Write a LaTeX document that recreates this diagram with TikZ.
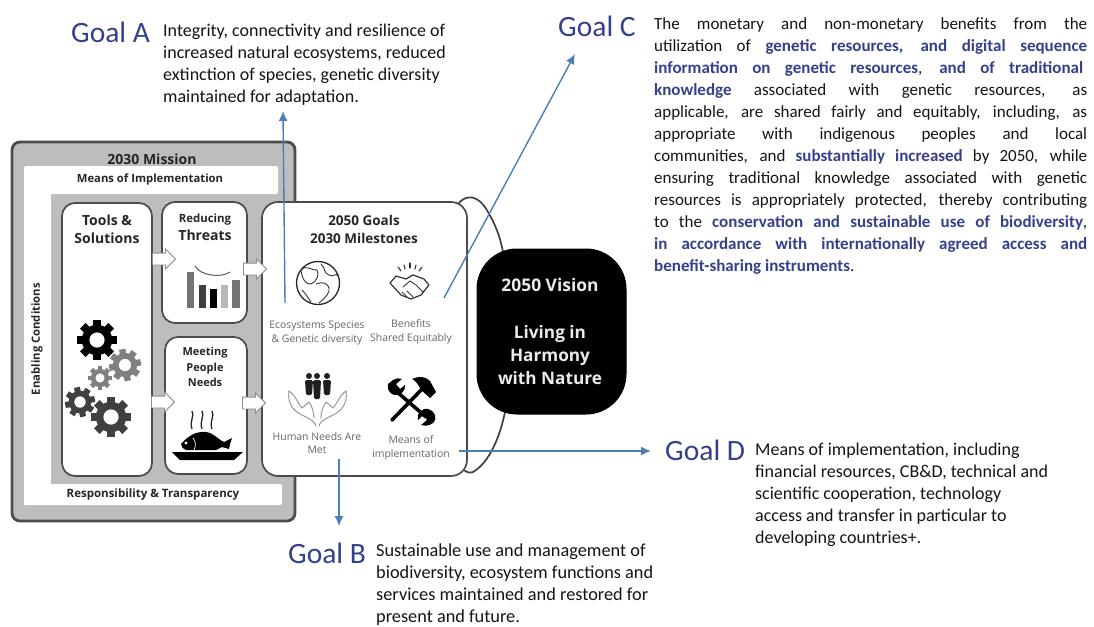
\documentclass[tikz,border=0pt]{standalone}
\usepackage{fontspec}
\setmainfont{Carlito}
\newfontfamily\sg{Open Sans}
\usetikzlibrary{arrows.meta,shapes.arrows}
\definecolor{goalblue}{HTML}{34408C}
\definecolor{lineblue}{HTML}{4A7EBB}
\definecolor{boxgray}{HTML}{BDBDBD}
\newcommand{\gb}[1]{\textbf{\textcolor{goalblue}{#1}}}
\newcommand{\jl}[1]{\makebox[433pt][s]{#1}}
\newcommand{\gearicon}[5]{%
  \foreach \ang in {0,45,...,315}{
    \fill[#5,shift={(#1,#2)},rotate=\ang+#3] (-#4*0.2,0) rectangle (#4*0.2,#4);
  }
  \fill[#5] (#1,#2) circle ({#4*0.76});
  \fill[white] (#1,#2) circle ({#4*0.38});
}
\tikzset{
  x=1pt,y=-1pt,
  goallabel/.style={inner sep=0pt,anchor=west,text=goalblue,font=\fontsize{29.5}{32}\selectfont},
  goaltext/.style={inner sep=0pt,anchor=north west,align=left,text=black!92,font=\fontsize{18}{22}\selectfont},
  panel/.style={draw=black!70,line width=1.7pt,fill=white,rounded corners=13pt},
  head/.style={inner sep=0pt,align=center,text=black!85,font=\sg\bfseries\fontsize{14}{18}\selectfont},
  band/.style={inner sep=0pt,align=center,text=black!85,font=\sg\bfseries\fontsize{11.3}{13}\selectfont},
  caption/.style={inner sep=0pt,align=center,text=black!60,font=\sg\fontsize{10.4}{13.5}\selectfont},
  vis/.style={inner sep=0pt,align=center,text=white!92!black,font=\sg\bfseries},
  callout/.style={draw=lineblue,line width=1.4pt,-{Latex[length=10pt,width=9pt]}},
  blockarrow/.style={single arrow,draw=black!45,fill=white,line width=.9pt,minimum height=23pt,text height=11pt,text depth=0pt,text width=8pt,single arrow head extend=4pt,inner sep=0pt},
  icon/.style={black!80,line width=.9pt,line join=round,line cap=round},
  hand/.style={black!40,line width=1pt,line join=round,line cap=round},
}
\begin{document}
\begin{tikzpicture}
\useasboundingbox (0,0) rectangle (1094,626);
% mission frame
\draw[draw=black!70,line width=2.8pt,fill=boxgray,rounded corners=8pt] (12,142) rectangle (295,521);
\fill[white,rounded corners=2pt] (24,166) rectangle (278,194);
\fill[white] (24,190) rectangle (51,505);
\fill[white,rounded corners=2pt] (24,484) rectangle (282,505);
\node[head] (mission) at (152,159) {2030 Mission};
\node[band] (means) at (150,180) {Means of Implementation};
\node[band,font=\sg\bfseries\fontsize{11.5}{13}\selectfont] (resp) at (153,495) {Responsibility \& Transparency};
\node[band,rotate=90] (enabling) at (37,339) {Enabling Conditions};
% vision loop
\draw[black!75,line width=1.7pt] (458,204) .. controls (466,194) and (478,194) .. (488,212) .. controls (495,224) and (500,236) .. (503,252);
\draw[black!75,line width=1.7pt] (505,412) .. controls (500,436) and (490,462) .. (473,472) .. controls (469,474) and (465,471) .. (461,468);
% panels
\draw[panel] (62,203) rectangle (152,476);
\draw[panel] (162,202) rectangle (247,323);
\draw[panel] (165,337) rectangle (247,474);
\draw[panel,rounded corners=16pt] (262,202) rectangle (467,476);
\node[blockarrow] (ar1) at (161,259) {};
\node[blockarrow] (ar2) at (252,269) {};
\node[blockarrow] (ar3) at (160,402) {};
\node[blockarrow] (ar4) at (251,403) {};
\draw[black,line width=1pt,fill=black,rounded corners=40pt] (477,249) rectangle (626,414);
% panel text
\node[head] (tools) at (107,229) {Tools \&\\Solutions};
\node[head,font=\sg\bfseries\fontsize{11.4}{18}\selectfont] (reduce) at (205,227) {Reducing\\\fontsize{14}{18}\selectfont Threats};
\node[head,font=\sg\bfseries\fontsize{11}{15.5}\selectfont] (meet) at (205,367) {Meeting\\People\\Needs};
\node[head,font=\sg\bfseries\fontsize{13.5}{18}\selectfont] (goals) at (364,229) {2050 Goals\\2030 Milestones};
\node[caption] (ceco) at (317,333) {Ecosystems Species\\\& Genetic diversity};
\node[caption] (cben) at (411,332) {Benefits\\Shared Equitably};
\node[caption] (chum) at (317,443) {Human Needs Are\\Met};
\node[caption] (cmea) at (411,448) {Means of\\implementation};
\node[vis,font=\sg\bfseries\fontsize{17.4}{20}\selectfont] (vision) at (550,285) {2050 Vision};
\node[vis,font=\sg\bfseries\fontsize{17.2}{23}\selectfont] (living) at (550,355) {Living in\\Harmony\\with Nature};
% gears
\gearicon{97}{340}{0}{20}{black}
\gearicon{125}{365}{10}{16}{black!50}
\gearicon{100}{378}{0}{12}{black!50}
\gearicon{80}{402}{12}{15}{black!75}
\gearicon{111}{417}{0}{20}{black!75}
% bars
\fill[black!55] (187,272) rectangle (194,308);
\fill[black!75] (199,285) rectangle (206,308);
\fill[black] (210,289) rectangle (217,308);
\fill[black!28] (221,285) rectangle (228,308);
\fill[black!55] (232,280) rectangle (240,308);
\draw[black!65,line width=1pt] (195,266) .. controls (200,276) and (222,278) .. (230,272);
% fish meal
\foreach \sx in {192,202,212}{
  \draw[black!85,line width=1.3pt] (\sx,411) .. controls (\sx+3,416) and (\sx-3,421) .. (\sx,429);
}
\fill[black] (181,444) .. controls (188,436) and (196,431) .. (206,432) .. controls (214,433) and (220,441) .. (224,442) -- (232,438) -- (230,444) -- (229,449) -- (222,447) -- (216,450) -- (186,450) .. controls (183,449) and (181,447) .. (181,444) -- cycle;
\fill[white] (186,443) circle (1.6);
\draw[white,line width=.7pt] (193,438) .. controls (196,442) and (196,446) .. (194,450);
\fill[black] (172,452) -- (243,452) -- (234,460) -- (180,460) -- cycle;
% globe
\draw[black!85,line width=1.3pt] (318,283) circle (21.5);
\draw[icon] (301,270) .. controls (306,264) and (312,271) .. (317,270) .. controls (320,275) and (316,282) .. (311,284) .. controls (306,285) and (302,279) .. (301,270);
\draw[icon] (321,264) .. controls (326,268) and (323,273) .. (329,275) .. controls (333,278) and (336,272) .. (338,276);
\draw[icon] (316,284) .. controls (322,281) and (330,283) .. (329,291) .. controls (327,297) and (322,300) .. (319,303);
\draw[icon] (302,290) .. controls (306,294) and (308,298) .. (311,302);
% handshake
\draw[icon,line width=1.2pt] (390,283) -- (396,276) -- (406,279) -- (413,275) -- (424,279) -- (429,285) -- (421,295) -- (411,299) -- (401,295) -- cycle;
\draw[icon] (403,287) -- (410,281) -- (416,285) -- (423,292) (407,291) -- (413,297) (402,292) -- (407,297);
\foreach \ax/\ay/\bx/\by in {401/271/398/267,405/269/404/265,410/268/410/263,415/269/416/265,419/271/422/267}{
  \draw[icon,line width=1.1pt] (\ax,\ay) -- (\bx,\by);
}
% people
\foreach \px/\py in {309/395,317/399,327/395}{
  \fill[black!88] (\px,376) circle (3);
  \fill[black!88,rounded corners=1.5pt] (\px-4,380) -- (\px+4,380) -- (\px+3,\py) -- (\px-3,\py) -- cycle;
}
% hands
\draw[hand] (289,391) .. controls (287,404) and (294,412) .. (304,416) .. controls (312,420) and (315,422) .. (316,426);
\draw[hand] (346,391) .. controls (348,404) and (341,412) .. (331,416) .. controls (323,420) and (320,422) .. (319,426);
\draw[hand] (289,391) .. controls (296,396) and (298,404) .. (302,408) -- (309,402) .. controls (312,406) and (314,412) .. (314,418);
\draw[hand] (346,391) .. controls (339,396) and (337,404) .. (333,408) -- (326,402) .. controls (323,406) and (321,412) .. (321,418);
% tools
\draw[black,line width=3.6pt,line cap=round] (392,420) -- (424,387);
\draw[black,line width=3.6pt] (396,391) -- (426,417);
\fill[black] (412,379) .. controls (418,376) and (425,376) .. (430,381) -- (436,392) -- (430,398) -- (421,390) .. controls (418,384) and (416,381) .. (412,379) -- cycle;
\fill[black] (388,384) -- (393,380) .. controls (397,378) and (400,378) .. (402,379) -- (396,384) -- (400,389) -- (405,385) .. controls (406,391) and (400,396) .. (394,395) .. controls (389,393) and (387,389) .. (388,384) -- cycle;
\fill[black] (433,423) .. controls (429,426) and (425,426) .. (421,425) -- (427,420) -- (423,415) -- (418,420) .. controls (416,414) and (421,408) .. (428,409) .. controls (435,411) and (438,418) .. (433,423) -- cycle;
% goal labels and text
\node[goallabel] (goalA) at (71,32) {Goal A};
\node[goallabel] (goalB) at (288,553) {Goal B};
\node[goallabel] (goalC) at (558,26) {Goal C};
\node[goallabel] (goalD) at (665,450) {Goal D};
\node[goaltext] (textA) at (163,24) {Integrity, connectivity and resilience of\\increased natural ecosystems, reduced\\extinction of species, genetic diversity\\maintained for adaptation.};
\node[goaltext,font=\fontsize{18.3}{21.8}\selectfont] (textB) at (376,544) {Sustainable use and management of\\biodiversity, ecosystem functions and\\services maintained and restored for\\present and future.};
\node[goaltext] (textD) at (755,443) {Means of implementation, including\\financial resources, CB\&D, technical and\\scientific cooperation, technology\\access and transfer in particular to\\developing countries+.};
\node[goaltext,font=\fontsize{17}{22}\selectfont] (textC) at (654,17) {\jl{The monetary and non-monetary benefits from the}\\
\jl{utilization of \gb{genetic resources, and digital sequence}}\\
\makebox[429pt][s]{\gb{information on genetic resources}, \gb{and of traditional}}\\
\jl{\gb{knowledge} associated with genetic resources, as}\\
\jl{applicable, are shared fairly and equitably, including, as}\\
\jl{appropriate with indigenous peoples and local}\\
\jl{communities, and \gb{substantially increased} by 2050, while}\\
\jl{ensuring traditional knowledge associated with genetic}\\
\jl{resources is appropriately protected, thereby contributing}\\
\jl{to the \gb{conservation and sustainable use of biodiversity},}\\
\jl{\gb{in accordance with internationally agreed access and}}\\
\gb{benefit-sharing instruments}.};
% callouts
\coordinate (startA) at (285,303);
\coordinate (endA) at (283,111);
\coordinate (startC) at (444,298);
\coordinate (endC) at (575,54);
\coordinate (startB) at (339,459);
\coordinate (endB) at (339,526);
\coordinate (startD) at (459,451);
\coordinate (endD) at (651,451);
\draw[callout] (startA) -- (endA);
\draw[callout] (startC) -- (endC);
\draw[callout] (startB) -- (endB);
\draw[callout] (startD) -- (endD);
\end{tikzpicture}
\end{document}
